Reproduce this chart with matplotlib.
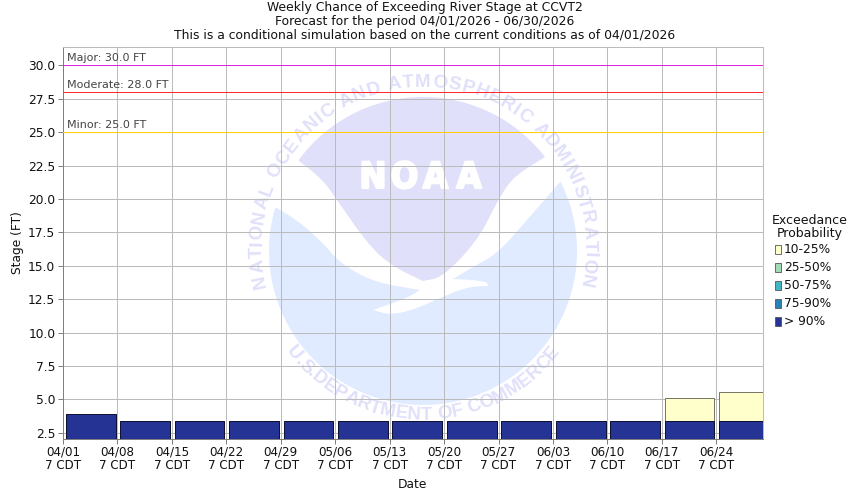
"""Weekly chance of exceeding river stage at CCVT2, with the NOAA watermark behind."""

import numpy as np
import matplotlib
matplotlib.use("Agg")
import matplotlib.pyplot as plt
import matplotlib.patheffects as pe
from matplotlib.patches import Polygon, Rectangle

# ─── data ───────────────────────────────────────────────────────────
week_labels = ["04/01", "04/08", "04/15", "04/22", "04/29", "05/06", "05/13",
               "05/20", "05/27", "06/03", "06/10", "06/17", "06/24"]
week_start_days = [0, 7, 14, 21, 28, 35, 42, 49, 56, 63, 70, 77, 84]
stage_over_90 = [3.94, 3.42, 3.42, 3.42, 3.42, 3.42, 3.42,
                 3.42, 3.42, 3.42, 3.42, 3.42, 3.42]
stage_10_25 = [3.94, 3.42, 3.42, 3.42, 3.42, 3.42, 3.42,
               3.42, 3.42, 3.42, 3.42, 5.12, 5.57]

flood_names = ["Major", "Moderate", "Minor"]
flood_stages = [30.0, 28.0, 25.0]

y_ticks = [2.5, 5.0, 7.5, 10.0, 12.5, 15.0, 17.5, 20.0, 22.5, 25.0, 27.5, 30.0]
legend_labels = ["10-25%", "25-50%", "50-75%", "75-90%", "> 90%"]

# ─── palette ────────────────────────────────────────────────────────
CLR_LEGEND = ["#ffffcc", "#a1dab4", "#41b6c4", "#2c7fb8", "#253494"]
CLR_FLOOD = ["#e020e0", "#ff2a2a", "#ffcc00"]
CLR_GRID = "#bbbbbb"
CLR_AXIS = "#808080"
CLR_TEXT = "#111111"
CLR_LAV = "#e0e0fb"
CLR_SKY = "#e0ebff"

W, H = 850, 500
CX, CY, R = 423, 251, 154
RING_CY = 248
PX = 0.715  # just under one pixel at dpi 100, so lines snap to a single row
Y_MIN, Y_MAX = 2.04, 31.37


def smooth(points, passes=3):
    # corner cutting, end points stay put so the logo tips remain sharp
    p = np.array(points, dtype=float)
    for _ in range(passes):
        q = 0.75 * p[:-1] + 0.25 * p[1:]
        r = 0.25 * p[:-1] + 0.75 * p[1:]
        mid = np.empty((len(q) * 2, 2))
        mid[0::2] = q
        mid[1::2] = r
        p = np.vstack([p[:1], mid, p[-1:]])
    return p


def arc(a0, a1, radius=R, n=80):
    # angles in degrees, screen coords (y down)
    t = np.radians(np.linspace(a0, a1, n))
    return np.column_stack([CX + radius * np.cos(t), CY + radius * np.sin(t)])


def ring_text(bg, fig, text, a_mid, span, radius, size, inward):
    # one real text per character, laid along the seal ring
    rend = fig.canvas.get_renderer()
    probe = bg.text(0, 0, "x", fontsize=size, family="Liberation Sans", fontweight="bold")
    prop = probe.get_fontproperties()
    widths = [rend.get_text_width_height_descent(c.replace(" ", "n"), prop, False)[0]
              * (0.5 if c == " " else 1) for c in text]
    probe.remove()
    edges = np.cumsum([0] + widths)
    centers = (edges[:-1] + edges[1:]) / 2 / edges[-1] - 0.5
    for c, f in zip(text, centers):
        ang = a_mid + f * span * (1 if not inward else -1)
        t = np.radians(ang)
        x, y = CX + radius * np.cos(t), RING_CY + radius * np.sin(t)
        rot = -(ang + 90) if not inward else -(ang - 90)
        bg.text(x, y, c, fontsize=size, family="Liberation Sans", fontweight="bold",
                color=CLR_LAV, ha="center", va="center",
                rotation=rot, rotation_mode="anchor")


def draw_logo(fig):
    bg = fig.add_axes([0, 0, 1, 1], zorder=0)
    bg.set_xlim(0, W)
    bg.set_ylim(H, 0)
    bg.set_axis_off()

    # lower sky blue body: wave edge left to right, then the arc underneath
    left_edge = smooth([(275, 207), (297, 220), (323, 243), (340, 263),
                        (373, 282), (420, 290)])
    swoosh_in = smooth([(420, 290), (407, 298), (373, 310)], 2)
    swoosh_out = smooth([(373, 310), (390, 315), (413, 310), (440, 298),
                         (467, 287), (488, 286)])
    fin = smooth([(488, 286), (487, 282), (473, 280), (453, 279)], 2)
    right_edge = smooth([(453, 279), (473, 267), (498, 253), (527, 220),
                         (560, 182)])
    bottom = arc(-26.7, 196.6, n=160)
    body = np.vstack([left_edge, swoosh_in, swoosh_out, fin, right_edge, bottom])
    bg.add_patch(Polygon(body, closed=True, facecolor=CLR_SKY, edgecolor="none"))

    # upper lavender dome
    dome_top = arc(-143.9, -37.6, n=100)
    dome_right = smooth([(545, 157), (513, 177), (498, 200), (478, 240),
                         (443, 277), (423, 281)])
    dome_left = smooth([(423, 281), (390, 265), (367, 243), (337, 200),
                        (323, 180), (298, 160)])
    bg.add_patch(Polygon(np.vstack([dome_top, dome_right, dome_left]), closed=True,
                         facecolor=CLR_LAV, edgecolor="none"))

    for letter, x in zip("NOAA", [373, 404.5, 435.5, 469]):
        bg.text(x, 178, letter, color="white", fontsize=26, fontweight="bold",
                family="DejaVu Sans", stretch="condensed", ha="center", va="center",
                path_effects=[pe.withStroke(linewidth=1.5, foreground="white")])

    ring_text(bg, fig, "NATIONAL OCEANIC AND ATMOSPHERIC ADMINISTRATION",
              -90, 208, 166, 13.5, False)
    ring_text(bg, fig, "U.S.DEPARTMENT OF COMMERCE", 90, 106, 167, 13.5, True)


def draw_chart(fig):
    ax = fig.add_axes([63 / W, (H - 439) / H, 700 / W, 392 / H], zorder=1)
    ax.patch.set_alpha(0)
    ax.set_xlim(0, 90)
    ax.set_ylim(Y_MIN, Y_MAX)

    starts = np.array(week_start_days)
    ax.bar(starts + 3.55, np.array(stage_10_25) - Y_MIN, bottom=Y_MIN, width=6.4,
           color=CLR_LEGEND[0], edgecolor="#77776a", linewidth=PX, zorder=3)
    ax.bar(starts + 3.55, np.array(stage_over_90) - Y_MIN, bottom=Y_MIN, width=6.4,
           color=CLR_LEGEND[4], edgecolor="#111133", linewidth=PX, zorder=4)

    for name, stage, clr in zip(flood_names, flood_stages, CLR_FLOOD):
        ax.axhline(stage, color=clr, linewidth=PX, zorder=5)
        ax.annotate(f"{name}: {stage:.1f} FT", xy=(0, stage), xytext=(3, 1.5),
                    textcoords="offset points", fontsize=8, color="#444444",
                    va="bottom", ha="left", zorder=6)

    ax.set_xticks(week_start_days)
    ax.set_xticklabels([f"{d}\n7 CDT" for d in week_labels], fontsize=8.6,
                       color=CLR_TEXT, linespacing=1.05)
    ax.set_yticks(y_ticks)
    ax.set_yticklabels([f"{v:.1f}" for v in y_ticks], fontsize=8.8, color=CLR_TEXT)
    ax.tick_params(length=3.5, width=PX, color=CLR_AXIS, pad=2)
    ax.tick_params(axis="x", pad=1.5)
    ax.grid(True, color=CLR_GRID, linewidth=PX, zorder=1)
    ax.set_axisbelow(True)
    # the flood lines stand in for the grid lines at their own stage
    for v, line in zip(y_ticks, ax.get_ygridlines()):
        if v in flood_stages:
            line.set_visible(False)
    for side in ax.spines:
        ax.spines[side].set_color(CLR_GRID)
        ax.spines[side].set_linewidth(PX)
    ax.spines["left"].set_color(CLR_AXIS)
    ax.spines["bottom"].set_color(CLR_AXIS)


def draw_text(fig):
    titles = ["Weekly Chance of Exceeding River Stage at CCVT2",
              "Forecast for the period 04/01/2026 - 06/30/2026",
              "This is a conditional simulation based on the current conditions as of 04/01/2026"]
    for title, y in zip(titles, [7, 21, 35]):
        fig.text(425 / W, 1 - y / H, title, fontsize=8.95, color=CLR_TEXT,
                 ha="center", va="center")
    fig.text(412 / W, 1 - 485 / H, "Date", fontsize=8.8, color=CLR_TEXT,
             ha="center", va="center")
    fig.text(18 / W, 1 - 243 / H, "Stage (FT)", fontsize=8.8, color=CLR_TEXT,
             rotation=90, ha="center", va="center")

    # legend
    fig.text(810 / W, 1 - 220 / H, "Exceedance", fontsize=9, color=CLR_TEXT,
             ha="center", va="center")
    fig.text(810 / W, 1 - 234 / H, "Probability", fontsize=9, color=CLR_TEXT,
             ha="center", va="center")
    for i, (label, clr) in enumerate(zip(legend_labels, CLR_LEGEND)):
        y = 249.5 + i * 17.9
        fig.add_artist(Rectangle((775 / W, 1 - (y + 4.5) / H), 6 / W, 9 / H,
                                 transform=fig.transFigure, facecolor=clr,
                                 edgecolor="#555555", linewidth=0.6))
        fig.text(784 / W, 1 - y / H, label, fontsize=8.8, color=CLR_TEXT,
                 ha="left", va="center")


def main():
    fig = plt.figure(figsize=(W / 100, H / 100), dpi=100, facecolor="white")
    draw_logo(fig)
    draw_chart(fig)
    draw_text(fig)
    fig.savefig("out.png", dpi=100, facecolor="white")


if __name__ == "__main__":
    main()
